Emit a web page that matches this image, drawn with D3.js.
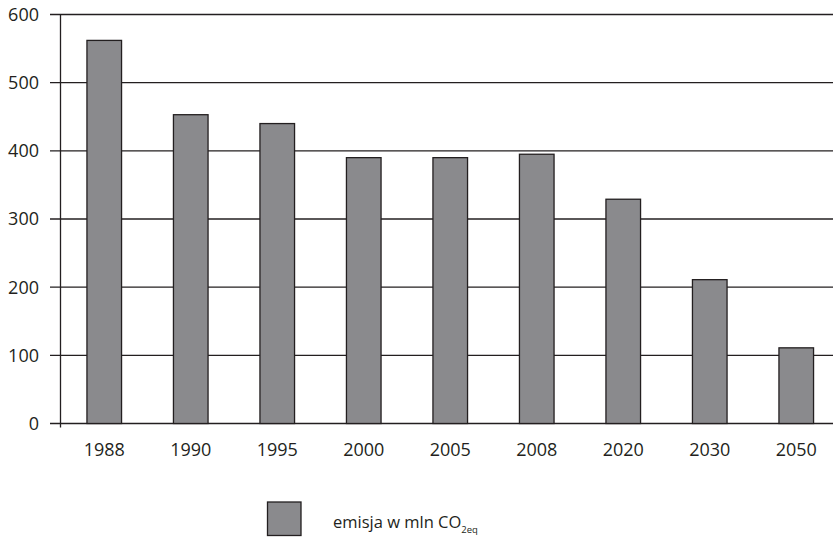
<!DOCTYPE html>
<html>
<head>
<meta charset="utf-8">
<script src="https://cdn.jsdelivr.net/npm/d3@7/dist/d3.min.js"></script>
<style>
  html, body { margin: 0; padding: 0; background: #fff; }
  svg { display: block; font-family: "Open Sans", "DejaVu Sans", sans-serif; }
</style>
</head>
<body>
<svg id="chart" width="833" height="537"></svg>
<script>
// Emisja gazów cieplarnianych (mln t CO2eq)
const years = ["1988", "1990", "1995", "2000", "2005", "2008", "2020", "2030", "2050"];
const emission = [562, 453, 440, 390, 390, 395, 329, 211, 111];
const yTicks = [0, 100, 200, 300, 400, 500, 600];
const legendLabel = "emisja w mln CO";
const legendSub = "2eq";

const svg = d3.select("#chart");
const ink = "#231f20";
const barFill = "#8a8a8d";

const x = d3.scaleBand().domain(years).range([61, 839.5]).paddingInner(0.6).paddingOuter(0.3);
const y = d3.scaleLinear().domain([0, 600]).range([423.5, 14.5]);

// horizontal gridlines with left tick stubs
svg.append("g").selectAll("line").data(yTicks).join("line")
  .attr("x1", 50).attr("x2", 833)
  .attr("y1", d => y(d)).attr("y2", d => y(d))
  .attr("stroke", ink).attr("stroke-width", 1.3);

// y tick labels
svg.append("g").selectAll("text").data(yTicks).join("text")
  .attr("x", 39).attr("y", d => y(d)).attr("dy", "0.36em")
  .attr("text-anchor", "end").attr("font-size", 18).attr("fill", ink)
  .text(d => d);

// bars
svg.append("g").selectAll("rect").data(emission).join("rect")
  .attr("x", (d, i) => x(years[i]))
  .attr("width", x.bandwidth())
  .attr("y", d => y(d))
  .attr("height", d => y(0) - y(d))
  .attr("fill", barFill).attr("stroke", ink).attr("stroke-width", 1.3);

// vertical axis line
svg.append("line")
  .attr("x1", 60.5).attr("x2", 60.5).attr("y1", y(600)).attr("y2", y(0) + 4)
  .attr("stroke", ink).attr("stroke-width", 1.3);

// x axis category labels
svg.append("g").selectAll("text").data(years).join("text")
  .attr("x", d => x(d) + x.bandwidth() / 2).attr("y", 455.5)
  .attr("text-anchor", "middle").attr("font-size", 18).attr("fill", ink)
  .text(d => d);

// legend
const lg = svg.append("g");
lg.append("rect").attr("x", 267.5).attr("y", 502).attr("width", 33.5).attr("height", 33.5)
  .attr("fill", barFill).attr("stroke", ink).attr("stroke-width", 1.3);
const lt = lg.append("text").attr("x", 333).attr("y", 528).attr("font-size", 16.5).attr("fill", ink);
lt.append("tspan").text(legendLabel);
lt.append("tspan").attr("dy", 5).attr("font-size", 9.5).text(legendSub);
</script>
</body>
</html>
